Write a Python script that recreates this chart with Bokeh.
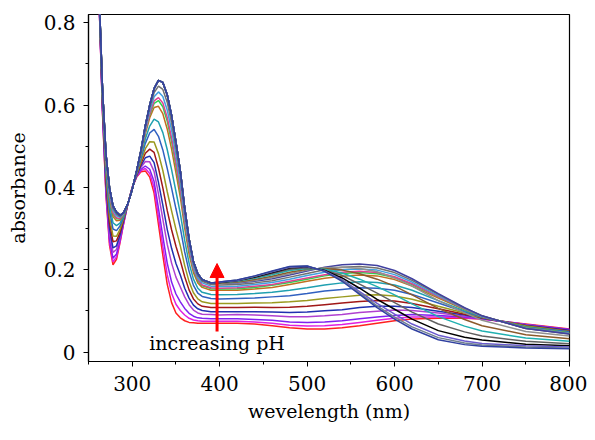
from bokeh.plotting import figure
from bokeh.models import Range1d, FixedTicker, Arrow, NormalHead, Label
from bokeh.embed import file_html
from bokeh.resources import INLINE

# ---- data ----
wavelength_uv = [255, 262, 266, 270, 274, 278, 282, 286, 290, 295, 300, 305, 310, 315, 320,
                 325, 330, 335, 340, 345, 350, 355, 360, 365, 370, 375, 380, 390]
wavelength_vis = [400, 420, 440, 460, 480, 500, 520, 540, 560, 580, 600, 620, 650, 680, 700, 750, 800]

uv_01 = [1.30, 0.86, 0.58, 0.38, 0.26, 0.212, 0.225, 0.265, 0.31, 0.36, 0.40, 0.425, 0.438, 0.44, 0.425, 0.386, 0.31, 0.235, 0.165, 0.12, 0.095, 0.083, 0.076, 0.072, 0.071, 0.07, 0.07, 0.07]
uv_02 = [1.30, 0.861, 0.583, 0.385, 0.267, 0.219, 0.231, 0.268, 0.311, 0.36, 0.40, 0.426, 0.441, 0.446, 0.434, 0.399, 0.328, 0.256, 0.188, 0.143, 0.116, 0.101, 0.090, 0.082, 0.078, 0.076, 0.075, 0.075]
uv_03 = [1.30, 0.862, 0.587, 0.391, 0.275, 0.228, 0.238, 0.272, 0.313, 0.36, 0.399, 0.427, 0.444, 0.452, 0.444, 0.414, 0.349, 0.281, 0.216, 0.17, 0.141, 0.122, 0.106, 0.094, 0.087, 0.083, 0.082, 0.081]
uv_04 = [1.30, 0.864, 0.593, 0.401, 0.289, 0.242, 0.249, 0.279, 0.316, 0.36, 0.399, 0.428, 0.449, 0.463, 0.462, 0.439, 0.384, 0.323, 0.262, 0.216, 0.182, 0.158, 0.134, 0.115, 0.102, 0.095, 0.092, 0.091]
uv_05 = [1.30, 0.866, 0.597, 0.409, 0.301, 0.253, 0.258, 0.284, 0.318, 0.36, 0.399, 0.429, 0.453, 0.472, 0.476, 0.46, 0.412, 0.357, 0.298, 0.252, 0.215, 0.187, 0.155, 0.131, 0.114, 0.105, 0.101, 0.098]
uv_06 = [1.30, 0.868, 0.603, 0.419, 0.315, 0.268, 0.27, 0.291, 0.321, 0.36, 0.398, 0.431, 0.458, 0.483, 0.493, 0.485, 0.447, 0.399, 0.344, 0.297, 0.257, 0.222, 0.183, 0.151, 0.129, 0.117, 0.111, 0.108]
uv_07 = [1.30, 0.87, 0.609, 0.429, 0.329, 0.282, 0.281, 0.298, 0.324, 0.36, 0.398, 0.432, 0.463, 0.494, 0.511, 0.51, 0.482, 0.441, 0.39, 0.343, 0.298, 0.258, 0.21, 0.171, 0.144, 0.129, 0.122, 0.118]
uv_08 = [1.30, 0.872, 0.617, 0.441, 0.345, 0.299, 0.295, 0.306, 0.327, 0.36, 0.397, 0.434, 0.47, 0.507, 0.532, 0.541, 0.524, 0.491, 0.446, 0.398, 0.348, 0.301, 0.243, 0.196, 0.162, 0.143, 0.135, 0.13]
uv_09 = [1.30, 0.874, 0.623, 0.451, 0.359, 0.314, 0.307, 0.313, 0.33, 0.36, 0.396, 0.436, 0.475, 0.518, 0.549, 0.566, 0.559, 0.533, 0.492, 0.443, 0.39, 0.336, 0.271, 0.216, 0.177, 0.155, 0.145, 0.14]
uv_10 = [1.30, 0.876, 0.629, 0.462, 0.375, 0.329, 0.319, 0.32, 0.333, 0.36, 0.396, 0.437, 0.481, 0.53, 0.569, 0.594, 0.597, 0.579, 0.542, 0.493, 0.435, 0.376, 0.301, 0.238, 0.193, 0.168, 0.157, 0.15]
uv_11 = [1.30, 0.877, 0.632, 0.466, 0.38, 0.335, 0.324, 0.323, 0.334, 0.36, 0.396, 0.438, 0.483, 0.535, 0.576, 0.604, 0.611, 0.596, 0.561, 0.511, 0.452, 0.39, 0.312, 0.247, 0.199, 0.173, 0.161, 0.154]
uv_12 = [1.30, 0.878, 0.633, 0.468, 0.383, 0.338, 0.326, 0.324, 0.335, 0.36, 0.396, 0.438, 0.484, 0.537, 0.579, 0.61, 0.618, 0.605, 0.57, 0.52, 0.46, 0.397, 0.317, 0.251, 0.202, 0.176, 0.163, 0.156]
uv_13 = [1.30, 0.878, 0.635, 0.472, 0.389, 0.344, 0.331, 0.327, 0.336, 0.36, 0.395, 0.439, 0.486, 0.541, 0.586, 0.62, 0.632, 0.621, 0.588, 0.539, 0.477, 0.411, 0.328, 0.259, 0.208, 0.18, 0.168, 0.16]
uv_14 = [1.30, 0.879, 0.638, 0.476, 0.394, 0.349, 0.335, 0.329, 0.337, 0.36, 0.395, 0.439, 0.488, 0.546, 0.593, 0.63, 0.646, 0.638, 0.607, 0.557, 0.493, 0.426, 0.339, 0.267, 0.214, 0.185, 0.172, 0.164]
uv_15 = [1.30, 0.88, 0.64, 0.48, 0.40, 0.355, 0.34, 0.332, 0.338, 0.36, 0.395, 0.44, 0.49, 0.55, 0.60, 0.64, 0.66, 0.655, 0.625, 0.575, 0.51, 0.44, 0.35, 0.275, 0.22, 0.19, 0.176, 0.168]

vis_01 = [0.070, 0.070, 0.068, 0.064, 0.059, 0.056, 0.056, 0.059, 0.064, 0.070, 0.076, 0.080, 0.082, 0.082, 0.080, 0.068, 0.056]
vis_02 = [0.075, 0.075, 0.073, 0.070, 0.065, 0.063, 0.064, 0.067, 0.072, 0.077, 0.082, 0.085, 0.085, 0.083, 0.080, 0.067, 0.055]
vis_03 = [0.081, 0.081, 0.079, 0.077, 0.073, 0.072, 0.073, 0.076, 0.081, 0.085, 0.089, 0.091, 0.089, 0.085, 0.081, 0.067, 0.055]
vis_04 = [0.090, 0.091, 0.090, 0.088, 0.086, 0.086, 0.088, 0.091, 0.096, 0.099, 0.102, 0.101, 0.095, 0.087, 0.082, 0.066, 0.053]
vis_05 = [0.098, 0.098, 0.098, 0.097, 0.096, 0.097, 0.100, 0.103, 0.108, 0.111, 0.111, 0.108, 0.099, 0.090, 0.082, 0.065, 0.053]
vis_06 = [0.108, 0.108, 0.109, 0.108, 0.109, 0.111, 0.115, 0.119, 0.123, 0.125, 0.124, 0.118, 0.105, 0.092, 0.083, 0.064, 0.051]
vis_07 = [0.118, 0.118, 0.119, 0.120, 0.122, 0.125, 0.130, 0.134, 0.138, 0.139, 0.136, 0.128, 0.111, 0.095, 0.084, 0.063, 0.050]
vis_08 = [0.129, 0.130, 0.131, 0.134, 0.137, 0.142, 0.148, 0.152, 0.156, 0.155, 0.150, 0.140, 0.119, 0.098, 0.085, 0.061, 0.049]
vis_09 = [0.139, 0.140, 0.142, 0.145, 0.150, 0.156, 0.163, 0.168, 0.171, 0.169, 0.163, 0.150, 0.125, 0.100, 0.086, 0.060, 0.047]
vis_10 = [0.150, 0.150, 0.153, 0.157, 0.164, 0.172, 0.179, 0.184, 0.187, 0.185, 0.176, 0.160, 0.131, 0.103, 0.087, 0.059, 0.046]
vis_11 = [0.153, 0.154, 0.157, 0.162, 0.169, 0.177, 0.185, 0.191, 0.193, 0.190, 0.181, 0.164, 0.134, 0.104, 0.087, 0.059, 0.046]
vis_12 = [0.155, 0.156, 0.160, 0.164, 0.172, 0.180, 0.188, 0.194, 0.196, 0.193, 0.183, 0.166, 0.135, 0.105, 0.087, 0.058, 0.045]
vis_13 = [0.159, 0.160, 0.164, 0.169, 0.177, 0.186, 0.194, 0.200, 0.202, 0.199, 0.188, 0.170, 0.137, 0.106, 0.087, 0.058, 0.045]
vis_14 = [0.163, 0.164, 0.168, 0.173, 0.182, 0.191, 0.200, 0.206, 0.208, 0.204, 0.193, 0.174, 0.140, 0.107, 0.088, 0.057, 0.044]
vis_15 = [0.167, 0.168, 0.172, 0.178, 0.187, 0.197, 0.206, 0.212, 0.214, 0.210, 0.198, 0.178, 0.142, 0.108, 0.088, 0.057, 0.044]
vis_16 = [0.167, 0.169, 0.174, 0.181, 0.190, 0.199, 0.205, 0.206, 0.203, 0.195, 0.180, 0.160, 0.125, 0.095, 0.077, 0.050, 0.039]
vis_17 = [0.168, 0.170, 0.176, 0.184, 0.194, 0.201, 0.203, 0.199, 0.190, 0.177, 0.160, 0.139, 0.106, 0.079, 0.064, 0.042, 0.032]
vis_18 = [0.169, 0.172, 0.179, 0.188, 0.198, 0.203, 0.201, 0.192, 0.177, 0.159, 0.139, 0.117, 0.086, 0.063, 0.051, 0.034, 0.026]
vis_19 = [0.169, 0.173, 0.181, 0.191, 0.201, 0.205, 0.199, 0.186, 0.165, 0.143, 0.120, 0.097, 0.068, 0.049, 0.039, 0.026, 0.020]
vis_20 = [0.169, 0.174, 0.182, 0.193, 0.204, 0.207, 0.198, 0.180, 0.155, 0.128, 0.104, 0.080, 0.052, 0.036, 0.029, 0.019, 0.015]
vis_21 = [0.170, 0.174, 0.184, 0.195, 0.206, 0.208, 0.197, 0.176, 0.147, 0.118, 0.092, 0.068, 0.041, 0.027, 0.021, 0.015, 0.012]
vis_22 = [0.170, 0.175, 0.184, 0.196, 0.207, 0.209, 0.196, 0.174, 0.143, 0.112, 0.085, 0.061, 0.035, 0.022, 0.017, 0.012, 0.009]
vis_23 = [0.170, 0.175, 0.185, 0.197, 0.208, 0.209, 0.196, 0.172, 0.140, 0.108, 0.080, 0.056, 0.030, 0.018, 0.014, 0.010, 0.008]

uv_parts = [uv_01, uv_02, uv_03, uv_04, uv_05, uv_06, uv_07, uv_08, uv_09, uv_10, uv_11, uv_12,
            uv_13, uv_14, uv_15, uv_15, uv_15, uv_15, uv_15, uv_15, uv_15, uv_15, uv_15]
vis_parts = [vis_01, vis_02, vis_03, vis_04, vis_05, vis_06, vis_07, vis_08, vis_09, vis_10, vis_11,
             vis_12, vis_13, vis_14, vis_15, vis_16, vis_17, vis_18, vis_19, vis_20, vis_21, vis_22, vis_23]

curve_colors = ["#FF2020", "#E020E0", "#8020F0", "#B040D0", "#2030B0", "#A01818", "#9A9A20",
                "#3060C0", "#20A0B0", "#C07020", "#30D050", "#E04090", "#40A0E0", "#707070",
                "#4040A0", "#909090", "#8B5A2B", "#20B0B0", "#606060", "#000000", "#6A5ACD",
                "#708090", "#3040A0"]

x_ticks = [300, 400, 500, 600, 700, 800]
x_minor = [250, 350, 450, 550, 650, 750]
y_ticks = [0, 0.2, 0.4, 0.6, 0.8]
y_minor = [0.1, 0.3, 0.5, 0.7]
y_tick_labels = {0: "0", 0.2: "0.2", 0.4: "0.4", 0.6: "0.6", 0.8: "0.8"}

arrow_x = 397
arrow_y_start = 0.05
arrow_y_end = 0.215
note_text = "increasing pH"
note_y = 0.022

FONT = "DejaVu Serif"
TICK_SIZE = "20px"
LABEL_SIZE = "19px"

p = figure(width=587, height=424, output_backend="svg", toolbar_location=None,
           x_range=Range1d(250, 800), y_range=Range1d(-0.023, 0.82),
           min_border_left=88, min_border_right=18, min_border_top=14, min_border_bottom=62)
p.background_fill_color = "white"
p.border_fill_color = "white"
p.outline_line_color = "black"
p.outline_line_width = 1.2
p.xgrid.visible = False
p.ygrid.visible = False

wl = wavelength_uv + wavelength_vis
for uv, vis, c in zip(uv_parts, vis_parts, curve_colors):
    p.line(wl, uv + vis, line_color=c, line_width=1.5)

p.add_layout(Arrow(end=NormalHead(size=14, fill_color="red", line_color="red"),
                   x_start=arrow_x, y_start=arrow_y_start, x_end=arrow_x, y_end=arrow_y_end,
                   line_color="red", line_width=3))
p.add_layout(Label(x=arrow_x, y=note_y, text=note_text, text_font=FONT, text_font_size=LABEL_SIZE,
                   text_align="center", text_baseline="middle", text_color="black"))

for ax in (p.xaxis[0], p.yaxis[0]):
    ax.axis_line_color = "black"
    ax.axis_line_width = 1.2
    ax.major_tick_line_color = "black"
    ax.minor_tick_line_color = "black"
    ax.major_tick_in = 0
    ax.major_tick_out = 5
    ax.minor_tick_in = 0
    ax.minor_tick_out = 3
    ax.major_label_text_font = FONT
    ax.major_label_text_font_size = TICK_SIZE
    ax.major_label_text_color = "black"
    ax.axis_label_text_font = FONT
    ax.axis_label_text_font_size = LABEL_SIZE
    ax.axis_label_text_font_style = "normal"
    ax.axis_label_text_color = "black"

p.xaxis.ticker = FixedTicker(ticks=x_ticks, minor_ticks=x_minor)
p.yaxis.ticker = FixedTicker(ticks=y_ticks, minor_ticks=y_minor)
p.yaxis.major_label_overrides = y_tick_labels
p.xaxis.axis_label = "wevelength (nm)"
p.yaxis.axis_label = "absorbance"
p.xaxis.major_label_standoff = 9
p.xaxis.axis_label_standoff = 6
p.yaxis.major_label_standoff = 8
p.yaxis.axis_label_standoff = 12

open("out.html", "w").write(file_html(p, INLINE))
